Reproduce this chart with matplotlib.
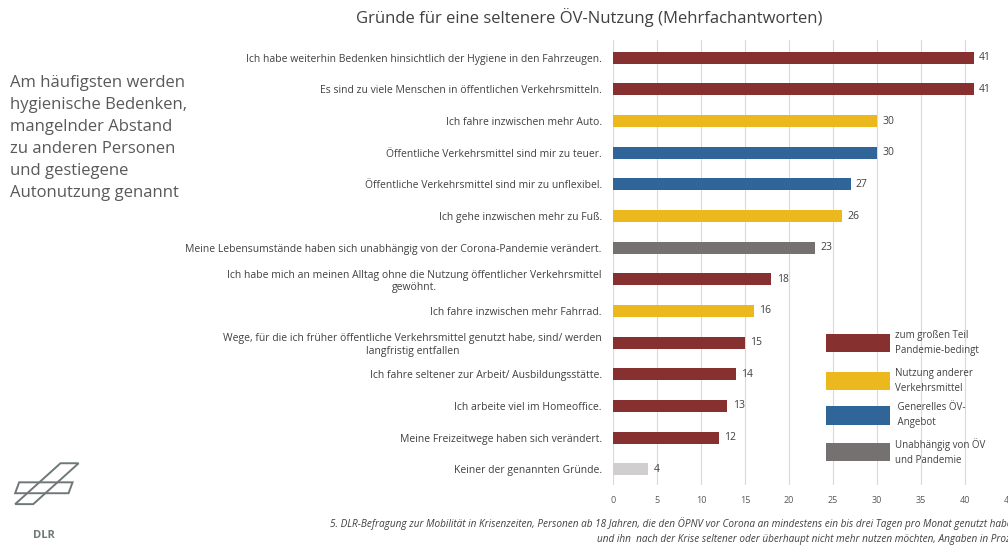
import matplotlib.pyplot as plt
from matplotlib.patches import Rectangle, Polygon

gruende = [
    'Ich habe weiterhin Bedenken hinsichtlich der Hygiene in den Fahrzeugen.',
    'Es sind zu viele Menschen in öffentlichen Verkehrsmitteln.',
    'Ich fahre inzwischen mehr Auto.',
    'Öffentliche Verkehrsmittel sind mir zu teuer.',
    'Öffentliche Verkehrsmittel sind mir zu unflexibel.',
    'Ich gehe inzwischen mehr zu Fuß.',
    'Meine Lebensumstände haben sich unabhängig von der Corona-Pandemie verändert.',
    'Ich habe mich an meinen Alltag ohne die Nutzung öffentlicher Verkehrsmittel\ngewöhnt.',
    'Ich fahre inzwischen mehr Fahrrad.',
    'Wege, für die ich früher öffentliche Verkehrsmittel genutzt habe, sind/ werden\nlangfristig entfallen',
    'Ich fahre seltener zur Arbeit/ Ausbildungsstätte.',
    'Ich arbeite viel im Homeoffice.',
    'Meine Freizeitwege haben sich verändert.',
    'Keiner der genannten Gründe.',
]
werte = [41, 41, 30, 30, 27, 26, 23, 18, 16, 15, 14, 13, 12, 4]
gruppe = ['pan', 'pan', 'vm', 'oev', 'oev', 'vm', 'una', 'pan', 'vm', 'pan', 'pan', 'pan', 'pan', 'kein']

farben = {'pan': '#86302F', 'vm': '#EBB81E', 'oev': '#2F6598', 'una': '#767171', 'kein': '#D0CECE'}
legende = [('pan', 'zum großen Teil\nPandemie-bedingt'),
           ('vm', 'Nutzung anderer\nVerkehrsmittel'),
           ('oev', ' Generelles ÖV-\n Angebot'),
           ('una', 'Unabhängig von ÖV\nund Pandemie')]

plt.rcParams['font.family'] = ['Open Sans', 'DejaVu Sans']

fig = plt.figure(figsize=(10.08, 5.45), dpi=100)
ax = fig.add_axes([0.608, 0.110, 0.393, 0.817])

pos = list(range(len(werte)))
ax.barh(pos, werte, height=0.38, color=[farben[g] for g in gruppe], zorder=3)
for p, w in zip(pos, werte):
    ax.text(w + 0.6, p, str(w), va='center', ha='left', fontsize=7.5, color='#404040')

ax.set_xlim(0, 45)
ax.set_ylim(13.5, -0.57)
ax.set_xticks(range(0, 46, 5))
ax.set_yticks(pos)
ax.set_yticklabels(gruende, fontsize=7.5, color='#404040', multialignment='center')
ax.tick_params(axis='y', length=0, pad=8)
ax.tick_params(axis='x', length=0, pad=8, labelsize=6.5, labelcolor='#595959')
ax.grid(axis='x', color='#D9D9D9', linewidth=0.8, zorder=0)
for s in ax.spines.values():
    s.set_visible(False)

fig.text(0.585, 0.967, 'Gründe für eine seltenere ÖV-Nutzung (Mehrfachantworten)',
         ha='center', va='center', fontsize=12, color='#404040')

fig.text(0.010, 0.747, 'Am häufigsten werden\nhygienische Bedenken,\nmangelnder Abstand\nzu anderen Personen\nund gestiegene\nAutonutzung genannt',
         ha='left', va='center', fontsize=12, color='#595959', linespacing=1.5)

# Legende
ly = [0.371, 0.301, 0.238, 0.171]
for (k, txt), y in zip(legende, ly):
    fig.patches.append(Rectangle((0.819, y - 0.017), 0.064, 0.034, transform=fig.transFigure,
                                 facecolor=farben[k], edgecolor='none'))
    fig.text(0.888, y, txt, ha='left', va='center', fontsize=7, color='#404040', linespacing=1.5)

# Quelle
fig.text(0.327, 0.040, '5. DLR-Befragung zur Mobilität in Krisenzeiten, Personen ab 18 Jahren, die den ÖPNV vor Corona an mindestens ein bis drei Tagen pro Monat genutzt haben',
         ha='left', va='center', fontsize=7.2, style='italic', color='#404040')
fig.text(0.592, 0.010, 'und ihn  nach der Krise seltener oder überhaupt nicht mehr nutzen möchten, Angaben in Prozent',
         ha='left', va='center', fontsize=7.2, style='italic', color='#404040')

# DLR-Logo (vereinfacht)
lc = '#6E7878'
for pts in ([(0.015, 0.075), (0.033, 0.075), (0.078, 0.150), (0.060, 0.150)],
            [(0.015, 0.095), (0.068, 0.095), (0.072, 0.115), (0.019, 0.115)]):
    fig.patches.append(Polygon(pts, closed=True, transform=fig.transFigure,
                               facecolor='none', edgecolor=lc, lw=1.4))
fig.text(0.044, 0.018, 'DLR', ha='center', va='center', fontsize=8, weight='bold', color=lc)

fig.savefig('out.png', dpi=100)
